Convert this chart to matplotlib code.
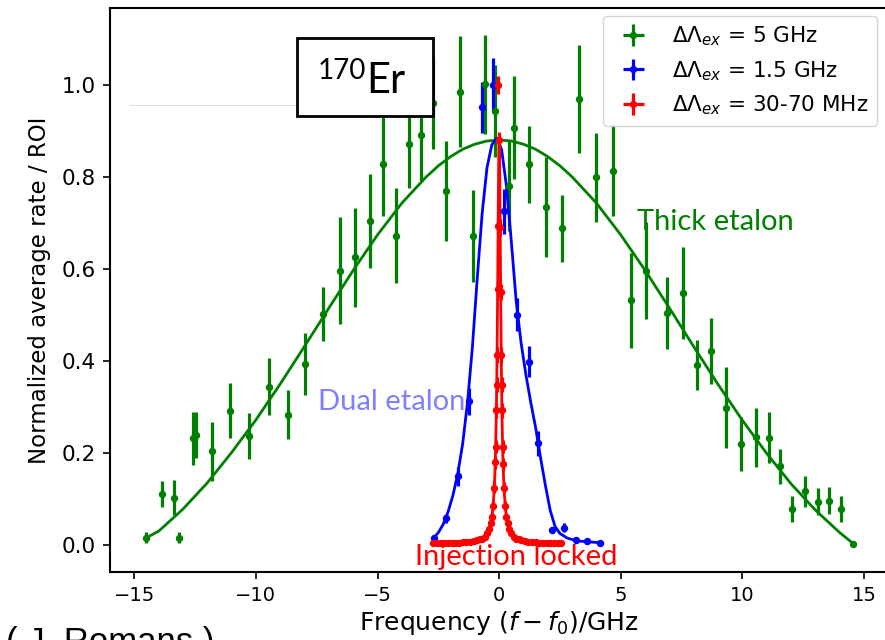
import numpy as np
import matplotlib.pyplot as plt
from matplotlib.patches import Rectangle
from matplotlib.lines import Line2D

# Thick etalon, 5 GHz linewidth
g_x = [-14.52, -13.88, -13.36, -13.18, -12.58, -12.46, -11.80, -11.07, -10.28, -9.47,
       -8.67, -7.99, -7.26, -6.55, -5.93, -5.33, -4.77, -4.26, -3.71, -3.21,
       -2.72, -2.19, -1.59, -1.07, -0.60, -0.16, 0.40, 0.63, 1.22, 1.92,
       2.60, 3.27, 3.99, 4.69, 5.41, 6.05, 6.91, 7.55, 8.12, 8.71,
       9.32, 9.96, 10.58, 11.11, 11.56, 12.06, 12.59, 13.10, 13.58, 14.07, 14.56]
g_y = [0.016, 0.111, 0.103, 0.016, 0.232, 0.238, 0.204, 0.292, 0.236, 0.344,
       0.283, 0.393, 0.502, 0.596, 0.625, 0.704, 0.828, 0.672, 0.871, 0.891,
       0.960, 0.770, 0.985, 0.672, 1.001, 0.944, 0.781, 0.907, 0.827, 0.735,
       0.688, 0.969, 0.799, 0.813, 0.532, 0.596, 0.505, 0.548, 0.391, 0.422,
       0.298, 0.220, 0.234, 0.233, 0.171, 0.079, 0.117, 0.094, 0.096, 0.079, 0.003]
g_err = [0.012, 0.029, 0.038, 0.012, 0.058, 0.050, 0.064, 0.059, 0.050, 0.062,
         0.053, 0.068, 0.058, 0.116, 0.107, 0.102, 0.112, 0.103, 0.096, 0.100,
         0.100, 0.109, 0.121, 0.100, 0.107, 0.100, 0.098, 0.112, 0.083, 0.109,
         0.073, 0.118, 0.097, 0.099, 0.103, 0.105, 0.078, 0.100, 0.054, 0.072,
         0.088, 0.059, 0.064, 0.055, 0.038, 0.028, 0.034, 0.029, 0.029, 0.028, 0.0]
g_fit_x = [-14.5, -14, -13, -12, -11, -10, -9, -8, -7, -6, -5, -4, -3, -2.5, -2, -1.5,
           -1, -0.5, 0, 0.5, 1, 1.5, 2, 2.5, 3, 4, 5, 6, 7, 8, 9, 10, 11, 12, 13, 14, 14.56]
g_fit_y = [0.016, 0.030, 0.078, 0.135, 0.201, 0.272, 0.350, 0.432, 0.515, 0.597,
           0.674, 0.743, 0.800, 0.824, 0.844, 0.860, 0.871, 0.878, 0.880, 0.878,
           0.871, 0.860, 0.844, 0.824, 0.800, 0.743, 0.674, 0.597, 0.515, 0.431,
           0.349, 0.271, 0.199, 0.133, 0.076, 0.027, 0.003]

# Dual etalon, 1.5 GHz linewidth
b_x = [-2.67, -2.18, -1.71, -1.22, -0.71, -0.26, 0.21, 0.73, 1.21, 1.58,
       2.17, 2.67, 3.15, 3.60, 4.15]
b_y = [0.015, 0.058, 0.149, 0.312, 0.951, 1.000, 0.725, 0.500, 0.398, 0.221,
       0.033, 0.038, 0.011, 0.009, 0.005]
b_err = [0.004, 0.010, 0.020, 0.030, 0.056, 0.058, 0.049, 0.036, 0.034, 0.027,
         0.006, 0.010, 0.004, 0.004, 0.003]
b_fit_x = [-2.70, -2.5, -2.3, -2.1, -1.9, -1.7, -1.5, -1.3, -1.1, -0.9, -0.7, -0.5,
           -0.3, -0.1, 0.1, 0.3, 0.5, 0.7, 0.9, 1.1, 1.3, 1.5, 1.7, 1.9, 2.1,
           2.3, 2.5, 2.8, 3.2, 3.6, 4.15]
b_fit_y = [0.015, 0.027, 0.045, 0.072, 0.108, 0.155, 0.220, 0.310, 0.430, 0.580,
           0.720, 0.820, 0.870, 0.884, 0.860, 0.780, 0.660, 0.530, 0.440, 0.370,
           0.310, 0.255, 0.190, 0.130, 0.075, 0.040, 0.025, 0.015, 0.009, 0.007, 0.005]

# Injection locked, 30-70 MHz linewidth
r_x = [-2.7, -2.55, -2.4, -2.25, -2.1, -1.95, -1.8, -1.65, -1.5, -1.35, -1.2, -1.05,
       -0.9, -0.8, -0.7, -0.6, -0.5, -0.42, -0.35, -0.3, -0.25, -0.2, -0.16, -0.14,
       -0.11, -0.1, -0.085, -0.06, -0.045, -0.03, 0.0, 0.045, 0.06, 0.085, 0.1, 0.11,
       0.14, 0.16, 0.2, 0.25, 0.3, 0.35, 0.42, 0.5, 0.6, 0.7, 0.8, 0.9, 1.05, 1.2,
       1.35, 1.5, 1.65, 1.8, 1.95, 2.1, 2.25, 2.4, 2.55]
r_y = [0.004, 0.004, 0.004, 0.004, 0.005, 0.005, 0.005, 0.005, 0.006, 0.006, 0.007, 0.008,
       0.010, 0.012, 0.014, 0.018, 0.025, 0.034, 0.047, 0.061, 0.085, 0.124, 0.180, 0.214,
       0.293, 0.348, 0.413, 0.556, 0.693, 1.000, 0.880, 0.690, 0.550, 0.413, 0.348, 0.293,
       0.214, 0.175, 0.124, 0.085, 0.061, 0.047, 0.034, 0.025, 0.018, 0.014, 0.012, 0.010,
       0.008, 0.007, 0.006, 0.006, 0.005, 0.005, 0.005, 0.004, 0.004, 0.004, 0.004]
r_err = [0.004] * 18 + [0.006, 0.008, 0.010, 0.012, 0.014, 0.015, 0.016, 0.016, 0.018,
                        0.018, 0.018, 0.020, 0.018, 0.018, 0.018, 0.018, 0.016, 0.016,
                        0.015, 0.014, 0.012, 0.010, 0.008, 0.006] + [0.004] * 17
r_fit_x = [-2.7, -2.2, -1.7, -1.3, -1.0, -0.8, -0.6, -0.45, -0.35, -0.28, -0.22, -0.18,
           -0.15, -0.12, -0.1, -0.08, -0.06, -0.04, -0.02, 0.0, 0.02, 0.04, 0.06, 0.08,
           0.1, 0.12, 0.15, 0.18, 0.22, 0.28, 0.35, 0.45, 0.6, 0.8, 1.0, 1.3, 1.7, 2.2, 2.5]
r_fit_y = [0.004, 0.004, 0.005, 0.006, 0.009, 0.012, 0.018, 0.030, 0.047, 0.069, 0.106, 0.148,
           0.198, 0.274, 0.346, 0.443, 0.566, 0.707, 0.831, 0.883, 0.831, 0.707, 0.566, 0.443,
           0.346, 0.274, 0.198, 0.148, 0.106, 0.069, 0.047, 0.030, 0.018, 0.012, 0.009, 0.006,
           0.005, 0.004, 0.004]

labels = [r'$\Delta\Lambda_{ex}$ = 5 GHz', r'$\Delta\Lambda_{ex}$ = 1.5 GHz',
          r'$\Delta\Lambda_{ex}$ = 30-70 MHz']

W, H = 885, 640
fig = plt.figure(figsize=(W / 100, H / 100), dpi=100)
ax = fig.add_axes([110 / W, 68 / H, 778.3 / W, 564 / H])

eb = dict(fmt='o', markersize=4.3, elinewidth=2.3, capsize=0)
ax.errorbar(g_x, g_y, yerr=g_err, xerr=np.zeros(len(g_x)), color='green', label=labels[0], **eb)
ax.plot(g_fit_x, g_fit_y, color='green', lw=2)
ax.errorbar(b_x, b_y, yerr=b_err, xerr=np.zeros(len(b_x)), color='blue', label=labels[1], **eb)
ax.plot(b_fit_x, b_fit_y, color='blue', lw=2)
ax.errorbar(r_x, r_y, yerr=r_err, xerr=np.zeros(len(r_x)), color='red', label=labels[2], **eb)
ax.plot(r_fit_x, r_fit_y, color='red', lw=2)

ax.set_xlim(-16, 16)
ax.set_ylim(-0.0587, 1.167)
ax.set_xticks([-15, -10, -5, 0, 5, 10, 15])
ax.set_yticks([0.0, 0.2, 0.4, 0.6, 0.8, 1.0])
ax.tick_params(length=5, width=1.2, pad=5)
ax.tick_params(axis='x', labelsize=14)
ax.tick_params(axis='y', labelsize=15.5)
for s in ax.spines.values():
    s.set_linewidth(1.5)
ax.set_xlabel(r'Frequency $(f - f_0)$/GHz', fontsize=18, labelpad=3)
ax.set_ylabel('Normalized average rate / ROI', fontsize=16.5, labelpad=8)

ax.legend(loc='upper right', bbox_to_anchor=(877 / W, 1 - 16 / H),
          bbox_transform=fig.transFigure, borderaxespad=0, fontsize=15.5)

# annotations
ann = dict(family='Lato', fontsize=21)
fig.text(637 / W, 1 - 230 / H, 'Thick etalon', color='green', va='baseline', **ann)
fig.text(318 / W, 1 - 410 / H, 'Dual etalon', color='#8080ff', va='baseline', **ann)
fig.text(415 / W, 1 - 565 / H, 'Injection locked', color='red', va='baseline', **ann)

# isotope box
fig.add_artist(Line2D([130 / W, 297 / W], [1 - 105 / H] * 2, color='#e0e0e0', lw=0.8))
fig.add_artist(Rectangle((297 / W, 1 - 116 / H), 136 / W, 78 / H, transform=fig.transFigure,
                         facecolor='white', edgecolor='black', lw=2, zorder=5))
fig.text(318 / W, 1 - 79 / H, '170', family='Lato', fontsize=20, va='baseline', zorder=6)
fig.text(366 / W, 1 - 93 / H, 'Er', family='Lato', fontsize=30, va='baseline', zorder=6)

fig.text(6 / W, 1 - 652 / H, '( J. Romans )', family='Liberation Sans', fontsize=25,
         va='baseline')

fig.savefig('out.png', dpi=100)
